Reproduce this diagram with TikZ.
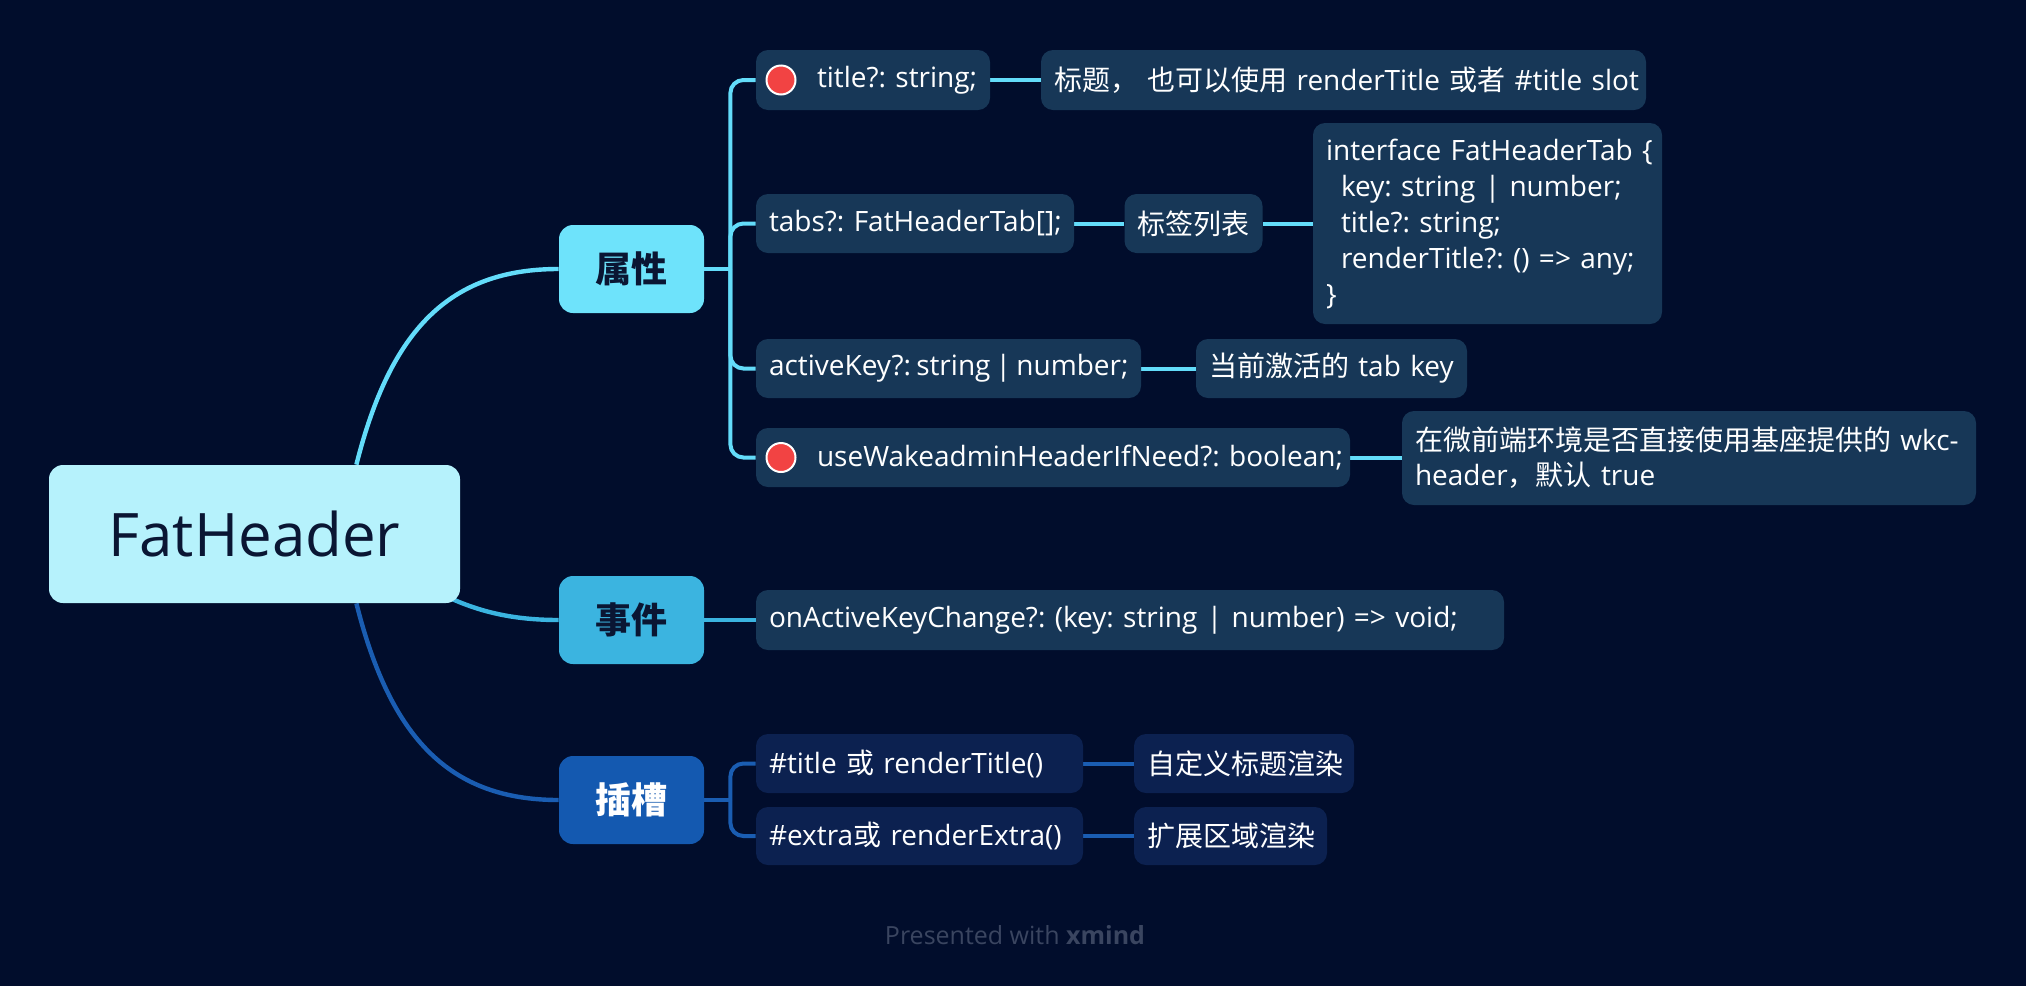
\documentclass[tikz,border=0pt]{standalone}
\usepackage{fontspec}
\setmainfont{Open Sans}
\newfontfamily\cjk{Noto Sans CJK SC}
\usetikzlibrary{backgrounds}
\definecolor{bgc}{HTML}{010D2C}
\definecolor{boxc}{HTML}{173757}
\definecolor{slotbox}{HTML}{0C2150}
\definecolor{rootc}{HTML}{B6F2FC}
\definecolor{attrc}{HTML}{6EE3FB}
\definecolor{eventc}{HTML}{3BB4E0}
\definecolor{slotc}{HTML}{1459B0}
\definecolor{lineA}{HTML}{63DCFA}
\definecolor{lineB}{HTML}{3BB4E0}
\definecolor{lineC}{HTML}{1A5DB2}
\definecolor{redc}{HTML}{F24343}
\definecolor{navy}{HTML}{0A1633}
\definecolor{footc}{HTML}{3A4560}
\tikzset{
  dbox/.style={rectangle, rounded corners=6pt, fill=boxc, text=white, inner xsep=6.5pt, inner ysep=0pt, align=left, font=\frenchspacing\fontsize{14}{18}\selectfont},
  sbox/.style={dbox, fill=slotbox},
  lbox/.style={rectangle, rounded corners=7pt, minimum width=72.5pt, minimum height=44pt, inner sep=0pt, text=navy, font=\cjk\bfseries\fontsize{18}{22}\selectfont},
  rootbox/.style={rectangle, rounded corners=7pt, fill=rootc, minimum width=205.5pt, minimum height=69pt, text=navy, font=\fontsize{30}{34}\selectfont},
  dot/.style={circle, fill=redc, draw=white, line width=1pt, minimum size=14.5pt, inner sep=0pt},
  lA/.style={draw=lineA, line width=2pt},
  lB/.style={draw=lineB, line width=2pt},
  lC/.style={draw=lineC, line width=2pt},
}
\begin{document}
\frenchspacing
\begin{tikzpicture}[x=0.5pt, y=-0.5pt]
\useasboundingbox (0,0) rectangle (2026,986);
% root and main topics
\node[rootbox] (root) at (254.5,534) {FatHeader};
\node[lbox, fill=attrc] (attr) at (631.5,269) {属性};
\node[lbox, fill=eventc] (event) at (631.5,620) {事件};
\node[lbox, fill=slotc, text=white] (slot) at (631.5,800) {插槽};
% attribute children
\node[dbox, text width=104pt, minimum height=30pt] (title) at (873,80) {\mbox{\hspace*{24pt}title?: string;}};
\node[dot] (dot1) at (781,80) {};
\node[dbox, text width=289.5pt, minimum height=30pt] (titledesc) at (1343.5,80) {\mbox{{\cjk 标题，\ 也可以使用} renderTitle {\cjk 或者} \#title slot}};
\node[dbox, text width=146pt, minimum height=29.5pt] (tabs) at (915,223.5) {\mbox{tabs?: FatHeaderTab[];}};
\node[dbox, text width=56pt, minimum height=29.5pt] (tabsdesc) at (1193.5,223.5) {\mbox{\cjk 标签列表}};
\node[dbox, text width=161.5pt, minimum height=100.5pt] (iface) at (1487.5,223.5) {\mbox{interface FatHeaderTab \{}\\
\mbox{\hspace*{7.5pt}key: string | number;}\\
\mbox{\hspace*{7.5pt}title?: string;}\\
\mbox{\hspace*{7.5pt}renderTitle?: () => any;}\\
\}};
\node[dbox, text width=179.5pt, minimum height=29.5pt] (active) at (948.5,368.5) {\mbox{\spaceskip=2.6pt activeKey?: string | number;}};
\node[dbox, text width=122.5pt, minimum height=29.5pt] (activedesc) at (1331.5,368.5) {\mbox{{\cjk 当前激活的} tab key}};
\node[dbox, text width=284pt, minimum height=29.5pt] (use) at (1053,457.5) {\mbox{\hspace*{24pt}useWakeadminHeaderIfNeed?: boolean;}};
\node[dot] (dot2) at (781,457.5) {};
\node[dbox, text width=274pt, minimum height=47pt, font=\frenchspacing\fontsize{14}{17.5}\selectfont] (usedesc) at (1689,458) {\mbox{{\cjk 在微前端环境是否直接使用基座提供的} wkc-}\\\mbox{header{\cjk ，默认} true}};
% event child
\node[dbox, text width=361pt, minimum height=30pt] (onchange) at (1130,620) {\mbox{onActiveKeyChange?: (key: string | number) => void;}};
% slot children
\node[sbox, text width=150.5pt, minimum height=29.5pt] (slot1) at (919.5,763.5) {\mbox{\#title {\cjk 或} renderTitle()}};
\node[sbox, text width=97pt, minimum height=29.5pt] (slot1desc) at (1244,763.5) {\mbox{\cjk 自定义标题渲染}};
\node[sbox, text width=150.5pt, minimum height=29pt] (slot2) at (919.5,836) {\mbox{\#extra{\cjk 或} renderExtra()}};
\node[sbox, text width=83.5pt, minimum height=29pt] (slot2desc) at (1230.5,836) {\mbox{\cjk 扩展区域渲染}};
% footer
\node[font=\fontsize{12.5}{15}\selectfont, text=footc] (foot) at (1015,935) {Presented with \textbf{xmind}};
\begin{scope}[on background layer]
\fill[bgc] (0,0) rectangle (2026,986);
% root curves
\draw[lA, line width=2.2pt] ([xshift=-52pt]root.north east) .. controls +(34,-135) and +(-109,0) .. (attr.west);
\draw[lB, line width=2.2pt] ([xshift=-7pt,yshift=3.5pt]root.south east) .. controls +(34,16) and +(-44,0) .. (event.west);
\draw[lC, line width=2.2pt] ([xshift=-52pt]root.south east) .. controls +(34,135) and +(-109,0) .. (slot.west);
% attribute branches
\draw[lA] (attr.east) -- ++(26,0) coordinate (aj);
\draw[lA, rounded corners=6.5pt] (aj) |- (title.west);
\draw[lA, rounded corners=6.5pt] (aj) |- (tabs.west);
\draw[lA, rounded corners=6.5pt] (aj) |- (active.west);
\draw[lA, rounded corners=6.5pt] (aj) |- (use.west);
\draw[lA] (title.east) -- (titledesc.west);
\draw[lA] (tabs.east) -- (tabsdesc.west);
\draw[lA] (tabsdesc.east) -- (iface.west);
\draw[lA] (active.east) -- (activedesc.west);
\draw[lA] (use.east) -- (usedesc.west |- use.east);
% event branch
\draw[lB] (event.east) -- (onchange.west);
% slot branches
\draw[lC] (slot.east) -- ++(26,0) coordinate (sj);
\draw[lC, rounded corners=6.5pt] (sj) |- (slot1.west);
\draw[lC, rounded corners=6.5pt] (sj) |- (slot2.west);
\draw[lC] (slot1.east) -- (slot1desc.west);
\draw[lC] (slot2.east) -- (slot2desc.west);
\end{scope}
\end{tikzpicture}
\end{document}
